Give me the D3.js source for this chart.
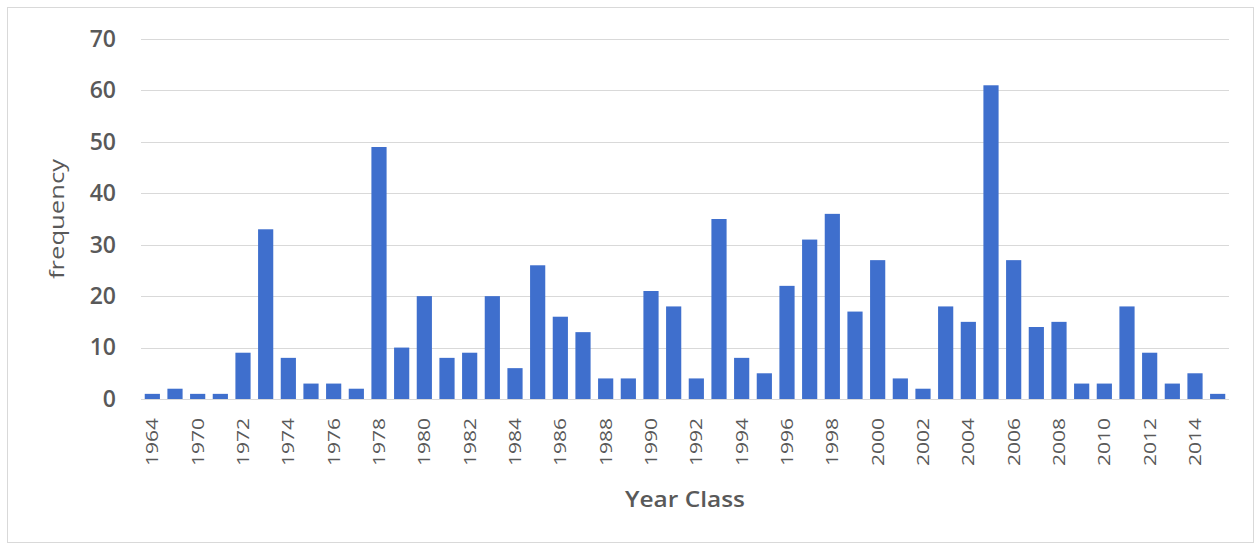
<!DOCTYPE html>
<html>
<head>
<meta charset="utf-8">
<script src="https://cdn.jsdelivr.net/npm/d3@7/dist/d3.min.js"></script>
<style>
  html, body { margin: 0; padding: 0; background: #ffffff; }
  svg { display: block; }
  text { font-family: "Open Sans", "Noto Sans", sans-serif; fill: #595959; }
</style>
</head>
<body>
<svg id="chart" width="1259" height="546"></svg>
<script>
const years = ["1964","1969","1970","1971","1972","1973","1974","1975","1976","1977",
  "1978","1979","1980","1981","1982","1983","1984","1985","1986","1987",
  "1988","1989","1990","1991","1992","1993","1994","1995","1996","1997",
  "1998","1999","2000","2001","2002","2003","2004","2005","2006","2007",
  "2008","2009","2010","2011","2012","2013","2014","2015"];
const frequency = [1,2,1,1,9,33,8,3,3,2,
  49,10,20,8,9,20,6,26,16,13,
  4,4,21,18,4,35,8,5,22,31,
  36,17,27,4,2,18,15,61,27,14,
  15,3,3,18,9,3,5,1];
const yTicks = [0,10,20,30,40,50,60,70];
const xTitle = "Year Class";
const yTitle = "frequency";

const svg = d3.select("#chart");

// outer frame
svg.append("rect")
  .attr("x", 7.5).attr("y", 7.5).attr("width", 1246).attr("height", 535)
  .attr("fill", "#ffffff").attr("stroke", "#d9d9d9").attr("stroke-width", 1);

const x = d3.scaleBand().domain(years).range([141, 1229]).paddingInner(0.33).paddingOuter(0.165);
const y = d3.scaleLinear().domain([0, 70]).range([399, 39]);

// gridlines
svg.append("g").selectAll("line").data(yTicks).join("line")
  .attr("x1", 141).attr("x2", 1229)
  .attr("y1", d => Math.round(y(d)) + 0.5).attr("y2", d => Math.round(y(d)) + 0.5)
  .attr("stroke", "#d9d9d9").attr("stroke-width", 1);

// y axis labels
const yAxis = d3.axisLeft(y).tickValues(yTicks).tickSize(0).tickPadding(0);
const gy = svg.append("g").attr("transform", "translate(116,0)").call(yAxis);
gy.select(".domain").remove();
gy.selectAll("text")
  .attr("font-family", "Open Sans").attr("font-size", 23).attr("font-weight", 600)
  .attr("fill", "#595959");

// bars
svg.append("g").selectAll("rect").data(years).join("rect")
  .attr("x", d => x(d))
  .attr("width", x.bandwidth())
  .attr("y", (d, i) => y(frequency[i]))
  .attr("height", (d, i) => y(0) - y(frequency[i]))
  .attr("fill", "#3f6fcd");

// x axis labels (every other category)
const xAxis = d3.axisBottom(x)
  .tickValues(years.filter((d, i) => i % 2 === 0))
  .tickSize(0).tickPadding(0);
const gx = svg.append("g").attr("transform", "translate(0,418)").call(xAxis);
gx.select(".domain").remove();
gx.selectAll("text")
  .attr("font-family", "Open Sans").attr("font-size", 17).attr("font-weight", 500)
  .attr("fill", "#595959")
  .attr("transform", "rotate(-90)")
  .attr("text-anchor", "end")
  .attr("textLength", 48).attr("lengthAdjust", "spacingAndGlyphs")
  .attr("x", 0).attr("y", 0).attr("dy", "0.35em");

// axis titles
svg.append("text")
  .attr("x", 685).attr("y", 507)
  .attr("text-anchor", "middle")
  .attr("font-size", 22).attr("font-weight", 600)
  .attr("textLength", 120).attr("lengthAdjust", "spacingAndGlyphs")
  .text(xTitle);

svg.append("text")
  .attr("transform", "translate(64,219) rotate(-90)")
  .attr("text-anchor", "middle")
  .attr("font-size", 20).attr("font-weight", 400)
  .attr("textLength", 120).attr("lengthAdjust", "spacingAndGlyphs")
  .text(yTitle);
</script>
</body>
</html>
